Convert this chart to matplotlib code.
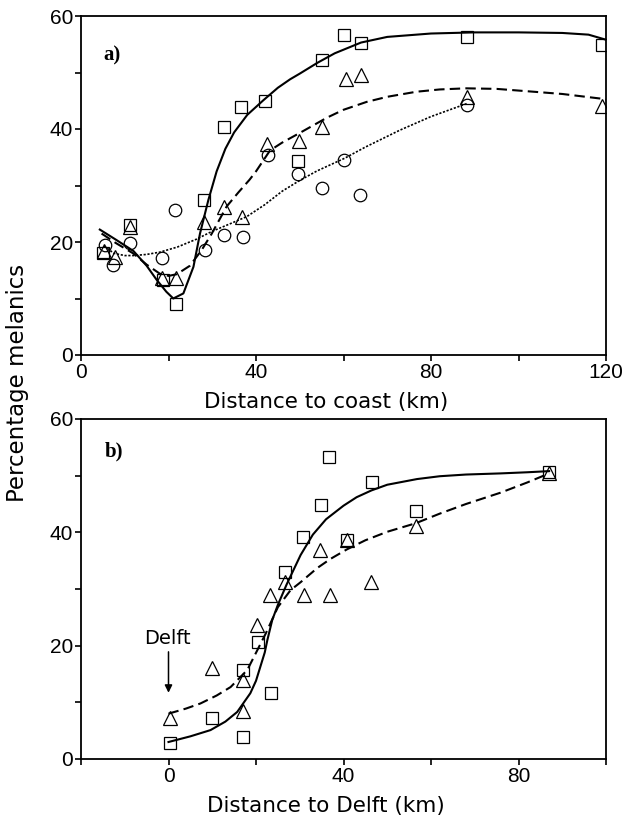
import matplotlib
matplotlib.use('Agg')
import matplotlib.pyplot as plt

# ---- panel a: distance to coast ----
sq_a_x = [5.1, 11.2, 18.8, 21.7, 28.1, 32.6, 36.6, 42.0, 49.6, 55.0, 60.0, 64.0, 88.2, 119.0]
sq_a_y = [18.0, 23.0, 13.3, 9.0, 27.4, 40.3, 43.9, 45.0, 34.4, 52.3, 56.6, 55.3, 56.2, 54.9]
tri_a_x = [5.3, 7.8, 11.2, 18.4, 21.7, 28.2, 32.7, 36.8, 42.5, 49.8, 55.0, 60.6, 64.0, 88.2, 119.0]
tri_a_y = [18.4, 17.4, 22.6, 13.6, 13.6, 23.6, 26.2, 24.5, 37.4, 37.9, 40.4, 48.8, 49.6, 45.7, 44.1]
circ_a_x = [5.5, 7.4, 11.2, 18.4, 21.5, 28.3, 32.7, 37.0, 42.8, 49.6, 55.0, 60.2, 63.8, 88.2]
circ_a_y = [19.5, 15.9, 19.8, 17.1, 25.7, 18.6, 21.2, 20.8, 35.4, 32.1, 29.5, 34.6, 28.3, 44.2]

solid_a_x = [4.3, 8, 12, 15, 17.3, 19.5, 21.1, 23.4, 25.7, 27.2, 29.1, 31, 33, 35, 38, 41.7,
             45, 47.8, 50, 54, 58, 64, 70, 80, 90, 100, 110, 116, 120]
solid_a_y = [22.2, 20.4, 18.4, 15.8, 13.3, 11.2, 10.0, 10.9, 15.6, 21.5, 27.4, 32.5, 36.5, 39.4,
             42.5, 45.1, 47.3, 48.8, 49.8, 51.7, 53.4, 55.3, 56.3, 56.9, 57.1, 57.1, 57.0, 56.7, 55.8]
dash_a_x = [4.7, 8, 11.9, 15, 18, 20, 21.9, 24.9, 27.6, 29.9, 33.3, 36, 38.5, 40, 43.2, 46, 50,
            56.2, 60, 65.3, 70, 76.7, 82, 88, 95, 103.4, 110, 118.6, 120]
dash_a_y = [21.5, 19.8, 18.0, 16.0, 14.4, 14.0, 14.3, 15.8, 18.6, 21.5, 26.3, 28.8, 31.0, 32.5,
            36.2, 37.6, 39.3, 42.0, 43.4, 44.8, 45.7, 46.6, 47.0, 47.2, 47.1, 46.6, 46.2, 45.4, 45.2]
dot_a_x = [5.3, 7.5, 10, 12, 15, 18, 22, 26.4, 30, 34, 37.9, 42, 46, 50, 54, 60.2, 65, 72.9, 80, 88.2]
dot_a_y = [19.3, 18.0, 17.6, 17.6, 17.8, 18.2, 19.1, 20.5, 21.9, 23.2, 24.5, 26.6, 29.0, 30.9,
           32.6, 34.8, 36.8, 39.8, 42.2, 44.5]

# ---- panel b: distance to Delft ----
sq_b_x = [0.3, 10.0, 17.0, 17.0, 20.4, 23.5, 26.7, 30.8, 34.8, 36.6, 40.8, 46.4, 56.5, 86.9]
sq_b_y = [2.8, 7.3, 15.7, 3.9, 20.7, 11.7, 33.0, 39.1, 44.8, 53.3, 38.6, 48.8, 43.8, 50.6]
tri_b_x = [0.3, 10.0, 17.0, 17.0, 20.3, 23.3, 26.6, 30.9, 34.6, 37.0, 40.8, 46.2, 56.5, 86.9]
tri_b_y = [7.2, 16.0, 13.9, 8.5, 23.6, 28.9, 31.2, 28.9, 36.8, 28.9, 38.7, 31.2, 41.2, 50.4]

solid_b_x = [0, 5, 9.6, 13, 15.7, 18.7, 20, 21, 22, 22.6, 23.7, 25, 27, 30.2, 33, 36, 40, 43,
             46.4, 50, 56.8, 62, 68, 75.9, 82, 87]
solid_b_y = [3.0, 4.0, 5.1, 6.6, 8.3, 11.6, 13.8, 16.3, 18.8, 21.0, 24.5, 27.2, 30.8, 36.0, 39.6,
             42.3, 44.7, 46.2, 47.4, 48.4, 49.4, 49.9, 50.2, 50.4, 50.6, 50.8]
dash_b_x = [0, 4, 7.3, 11, 14.2, 18, 20.3, 22.2, 25, 27.9, 30.2, 34, 37, 40.8, 45, 50, 56.5,
            62, 68, 75.9, 82, 87]
dash_b_y = [8.0, 8.9, 9.8, 11.2, 12.7, 15.7, 19.2, 22.1, 26.8, 29.8, 31.2, 33.7, 35.3, 37.0,
            38.6, 40.1, 41.6, 43.3, 45.0, 47.0, 48.8, 50.4]

a_xticks = [0, 20, 40, 60, 80, 100, 120]
a_xlabels = ['0', '', '40', '', '80', '', '120']
b_xticks = [-20, 0, 20, 40, 60, 80, 100]
b_xlabels = ['', '0', '', '40', '', '80', '']
yticks = [0, 10, 20, 30, 40, 50, 60]
ylabels = ['0', '', '20', '', '40', '', '60']

plt.rcParams['font.family'] = ['Liberation Sans', 'DejaVu Sans']

fig = plt.figure(figsize=(6.27, 8.16), dpi=100)
ax1 = fig.add_axes([81/627, 1-355/816, 525/627, 339/816])
ax2 = fig.add_axes([81/627, 1-759/816, 525/627, 340/816])

mk = dict(mfc='none', mec='black', mew=0.9, ls='none')

def style(ax, xlim, xt, xl, xlabel):
    ax.set_xlim(*xlim)
    ax.set_ylim(0, 60)
    ax.set_xticks(xt)
    ax.set_xticklabels(xl)
    ax.set_yticks(yticks)
    ax.set_yticklabels(ylabels)
    ax.tick_params(direction='out', length=4, width=1.2, labelsize=15, pad=1.5)
    for s in ax.spines.values():
        s.set_linewidth(1.3)
    ax.set_xlabel(xlabel, fontsize=15.5, family='DejaVu Sans')
    ax.xaxis.set_label_coords(0.467, -0.110)

# panel a
ax1.plot(solid_a_x, solid_a_y, color='black', lw=1.5)
ax1.plot(dash_a_x, dash_a_y, color='black', lw=1.5, dashes=(5, 2.5))
ax1.plot(dot_a_x, dot_a_y, color='black', lw=1.2, dashes=(1.3, 1))
ax1.plot(sq_a_x, sq_a_y, marker='s', ms=8.5, **mk)
ax1.plot(tri_a_x, tri_a_y, marker='^', ms=9.5, **mk)
ax1.plot(circ_a_x, circ_a_y, marker='o', ms=9, **mk)
style(ax1, (0, 120), a_xticks, a_xlabels, 'Distance to coast (km)')
ax1.text(0.042, 0.885, 'a)', transform=ax1.transAxes, fontsize=15, fontweight='bold',
         family='Liberation Serif', ha='left', va='center')

# panel b
ax2.plot(solid_b_x, solid_b_y, color='black', lw=1.5)
ax2.plot(dash_b_x, dash_b_y, color='black', lw=1.5, dashes=(5, 2.5))
ax2.plot(sq_b_x, sq_b_y, marker='s', ms=8.5, **mk)
ax2.plot(tri_b_x, tri_b_y, marker='^', ms=9.5, **mk)
style(ax2, (-20, 100), b_xticks, b_xlabels, 'Distance to Delft (km)')
ax2.text(0.046, 0.903, 'b)', transform=ax2.transAxes, fontsize=15, fontweight='bold',
         family='Liberation Serif', ha='left', va='center')
ax2.text(-0.3, 21.3, 'Delft', fontsize=14, family='DejaVu Sans', ha='center', va='center')
ax2.annotate('', xy=(0, 11.2), xytext=(0, 19.4),
             arrowprops=dict(arrowstyle='-|>', color='black', lw=1.1, mutation_scale=11))

fig.text(18/627, 1-383/816, 'Percentage melanics', rotation=90, fontsize=16.5,
         family='DejaVu Sans', ha='center', va='center')

fig.savefig('out.png', dpi=100)
